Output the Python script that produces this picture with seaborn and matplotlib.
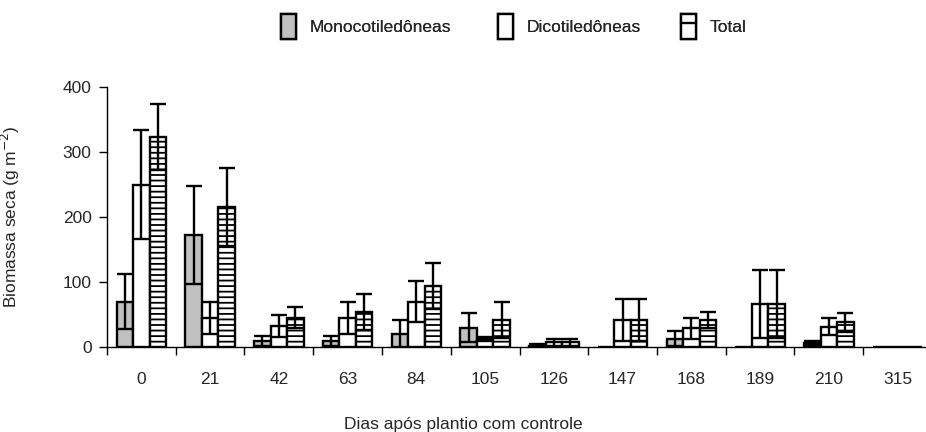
import pandas as pd
import matplotlib
matplotlib.use('Agg')
import matplotlib.pyplot as plt
import seaborn as sns
from matplotlib.patches import Patch
from matplotlib.lines import Line2D
from matplotlib.ticker import FixedLocator

# --- datos ---
dias = ['0', '21', '42', '63', '84', '105', '126', '147', '168', '189', '210', '315']
mono = [70, 172, 9, 9, 20, 30, 2, 0, 13, 0, 6, 0]
mono_sd = [43, 75, 8, 8, 21, 23, 2, 0, 12, 0, 3, 0]
dico = [250, 45, 33, 45, 70, 13, 7, 42, 29, 66, 31, 0]
dico_sd = [84, 25, 17, 25, 32, 3, 5, 32, 16, 52, 13, 0]
total = [323, 216, 45, 54, 94, 42, 7, 42, 42, 66, 38, 0]
total_sd = [51, 60, 16, 28, 36, 28, 5, 32, 12, 52, 15, 0]

grupos = ['Monocotiledôneas', 'Dicotiledôneas', 'Total']
valores = [mono, dico, total]
desvios = [mono_sd, dico_sd, total_sd]

df = pd.DataFrame({
    'Dia': dias * 3,
    'Grupo': [g for g in grupos for _ in dias],
    'Biomassa': mono + dico + total,
})

sns.set_style('white')
plt.rcParams['font.family'] = ['Liberation Sans', 'DejaVu Sans']
plt.rcParams['hatch.linewidth'] = 1.3
plt.rcParams['hatch.color'] = '#333333'

fs = 12.5
lw = 1.7

fig = plt.figure(figsize=(9.26, 4.32), dpi=100)
ax = fig.add_axes([107 / 926, 85 / 432, 825 / 926, 260 / 432])

sns.barplot(data=df, x='Dia', y='Biomassa', hue='Grupo', order=dias, hue_order=grupos,
            palette=['#c0c0c0', 'white', 'white'], saturation=1, width=0.72, gap=0,
            edgecolor='black', linewidth=lw, errorbar=None, legend=False, ax=ax)

for bar in ax.containers[2]:
    bar.set_hatch('---')

# barras de erro (desvio padrão)
for cont, val, sd in zip(ax.containers, valores, desvios):
    xs = [b.get_x() + b.get_width() / 2 for b in cont]
    pts = [(x, v, s) for x, v, s in zip(xs, val, sd) if s > 0]
    ax.errorbar([p[0] for p in pts], [p[1] for p in pts], yerr=[p[2] for p in pts],
                fmt='none', ecolor='black', elinewidth=lw, capsize=5.5, capthick=lw, zorder=5)

ax.set_ylim(0, 400)
ax.set_xlim(-0.5, 11.5)
ax.set_yticks([0, 100, 200, 300, 400])
ax.xaxis.set_minor_locator(FixedLocator([i - 0.5 for i in range(12)]))
ax.tick_params(axis='x', which='major', length=0, pad=18, labelsize=fs)
ax.tick_params(axis='x', which='minor', length=6, width=1, color='black', direction='out', bottom=True)
ax.tick_params(axis='y', length=6, width=1, color='black', direction='out', left=True, pad=5, labelsize=fs)

sns.despine(ax=ax)
for s in ['left', 'bottom']:
    ax.spines[s].set_color('black')
    ax.spines[s].set_linewidth(1)

ax.set_ylabel('Biomassa seca (g m$^{-2}$)', fontsize=fs)
ax.yaxis.set_label_coords(-0.103, 0.5)
ax.set_xlabel('Dias após plantio com controle', fontsize=fs)
ax.xaxis.set_label_coords(0.4315, -0.27)

# legenda: um item por posição
handles = [Patch(facecolor='#c0c0c0', edgecolor='black', linewidth=lw),
           Patch(facecolor='white', edgecolor='black', linewidth=lw),
           (Patch(facecolor='white', edgecolor='black', linewidth=lw),
            Line2D([], [], color='black', linewidth=lw))]
pos_x = [265, 482, 665]
for h, lab, px in zip(handles, grupos, pos_x):
    leg = fig.legend([h], [lab], loc='upper left', bbox_to_anchor=(px / 926, 1 + 2 / 432),
                     frameon=False, fontsize=fs, handlelength=0.9, handleheight=1.9,
                     handletextpad=0.75)
    fig.add_artist(leg)

fig.savefig('out.png', dpi=100)
